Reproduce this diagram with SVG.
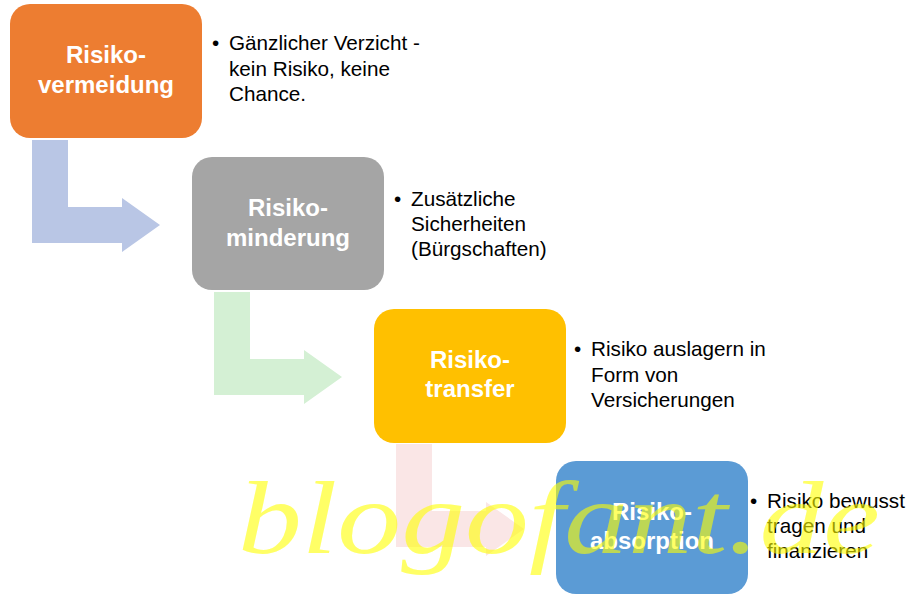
<svg xmlns="http://www.w3.org/2000/svg" width="924" height="600" viewBox="0 0 924 600">
  <style>
    .box { stroke: none; }
    .lbl { font-family: "Liberation Sans", Arial, sans-serif; font-weight: bold; font-size: 24px; fill: #ffffff; text-anchor: middle; }
    .txt { font-family: "Liberation Sans", Arial, sans-serif; font-size: 20.7px; fill: #000000; }
    .wm { font-family: "Liberation Serif", "DejaVu Serif", serif; font-style: italic; font-weight: normal; font-size: 104px; fill: #ffff00; fill-opacity: 0.6; }
  </style>
  <rect width="924" height="600" fill="#ffffff"/>
  <g id="connectors">
    <path d="M32,140 L68,140 L68,207 L122,207 L122,198 L160,225 L122,252 L122,243 L32,243 Z" fill="#b9c6e5"/>
    <path d="M214,292 L250,292 L250,359 L304,359 L304,350 L342,377 L304,404 L304,395 L214,395 Z" fill="#d4f0d4"/>
    <path d="M396,444 L432,444 L432,511 L486,511 L486,502 L524,529 L486,556 L486,547 L396,547 Z" fill="#fae6e6"/>
  </g>
  <g id="node1">
    <rect class="box" x="10" y="4" width="192" height="134" rx="20" fill="#ed7d31"/>
    <text class="lbl" x="106" y="63">Risiko-</text>
    <text class="lbl" x="106" y="93">vermeidung</text>
    <text class="txt" x="212" y="50">•</text>
    <text class="txt" x="229" y="50">Gänzlicher Verzicht -</text>
    <text class="txt" x="229" y="76">kein Risiko, keine</text>
    <text class="txt" x="229" y="101">Chance.</text>
  </g>
  <g id="node2">
    <rect class="box" x="192" y="157" width="192" height="133" rx="20" fill="#a5a5a5"/>
    <text class="lbl" x="288" y="216">Risiko-</text>
    <text class="lbl" x="288" y="246">minderung</text>
    <text class="txt" x="394" y="206">•</text>
    <text class="txt" x="411" y="206">Zusätzliche</text>
    <text class="txt" x="411" y="231">Sicherheiten</text>
    <text class="txt" x="411" y="256">(Bürgschaften)</text>
  </g>
  <g id="node3">
    <rect class="box" x="374" y="309" width="192" height="134" rx="20" fill="#ffc000"/>
    <text class="lbl" x="470" y="368">Risiko-</text>
    <text class="lbl" x="470" y="397">transfer</text>
    <text class="txt" x="574" y="356">•</text>
    <text class="txt" x="591" y="356">Risiko auslagern in</text>
    <text class="txt" x="591" y="382">Form von</text>
    <text class="txt" x="591" y="407">Versicherungen</text>
  </g>
  <g id="node4">
    <rect class="box" x="556" y="461" width="192" height="133" rx="20" fill="#5b9bd5"/>
    <text class="lbl" x="652" y="520">Risiko-</text>
    <text class="lbl" x="652" y="549">absorption</text>
    <text class="txt" x="750" y="508">•</text>
    <text class="txt" x="767" y="508">Risiko bewusst</text>
    <text class="txt" x="767" y="533">tragen und</text>
    <text class="txt" x="767" y="558">finanzieren</text>
  </g>
  <text class="wm" x="238" y="553" textLength="642" lengthAdjust="spacingAndGlyphs">blogofant.de</text>
</svg>
